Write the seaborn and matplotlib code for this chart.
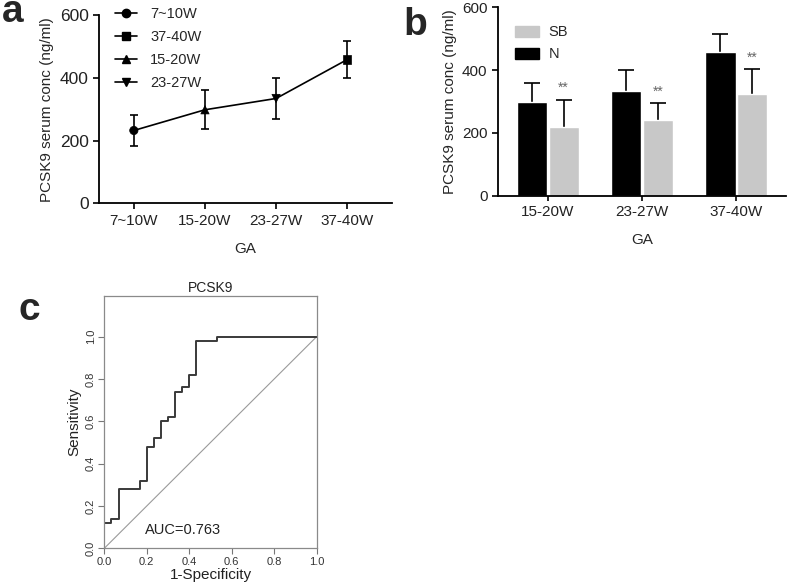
import matplotlib
matplotlib.use("Agg")
import matplotlib.pyplot as plt
from matplotlib.lines import Line2D
import pandas as pd
import seaborn as sns

sns.set_theme(style="ticks")
plt.rcParams["font.family"] = ["Liberation Sans", "DejaVu Sans"]

# panel a: PCSK9 over gestational age
ga_a = ["7~10W", "15-20W", "23-27W", "37-40W"]
mean_a = [232, 298, 334, 458]
sd_a = [50, 62, 66, 58]
marker_a = {"7~10W": "o", "15-20W": "^", "23-27W": "v", "37-40W": "s"}
legend_order_a = ["7~10W", "37-40W", "15-20W", "23-27W"]

# panel b: SB vs N
ga_b = ["15-20W", "23-27W", "37-40W"]
n_mean = [298, 334, 458]
n_sd = [62, 66, 58]
sb_mean = [218, 242, 323]
sb_sd = [88, 54, 80]
stars = ["**", "**", "**"]

# panel c: ROC curve
fpr = [0.0, 0.0, 0.033, 0.067, 0.167, 0.2, 0.233, 0.267, 0.3, 0.333, 0.367, 0.4, 0.433, 0.533, 1.0]
tpr = [0.0, 0.12, 0.14, 0.28, 0.32, 0.48, 0.52, 0.60, 0.62, 0.74, 0.76, 0.82, 0.98, 1.0, 1.0]
auc_text = "AUC=0.763"

fig = plt.figure(figsize=(7.87, 5.86), dpi=100)
fig.patch.set_facecolor("white")

# ---------- a ----------
ax_a = fig.add_axes([0.1258, 0.6531, 0.3723, 0.3213])
df_a = pd.DataFrame({"GA": ga_a, "mean": mean_a, "sd": sd_a})
sns.lineplot(data=df_a, x="GA", y="mean", color="black", lw=1.2, ax=ax_a, sort=False)
ax_a.errorbar(df_a["GA"], df_a["mean"], yerr=df_a["sd"], fmt="none",
              ecolor="black", elinewidth=1.2, capsize=3, capthick=1.2)
sns.scatterplot(data=df_a, x="GA", y="mean", style="GA", markers=marker_a,
                color="black", s=36, edgecolor="black", legend=False, ax=ax_a, zorder=5)
ax_a.set_xlim(-0.49, 3.63)
ax_a.set_ylim(0, 600)
ax_a.set_yticks([0, 200, 400, 600])
ax_a.set_xlabel("GA", fontsize=11, labelpad=10)
ax_a.set_ylabel("PCSK9 serum conc (ng/ml)", fontsize=11, labelpad=4)
ax_a.tick_params(width=1.2, length=4, color="black", labelcolor="#222222")
ax_a.tick_params(axis="y", labelsize=12.5)
ax_a.tick_params(axis="x", labelsize=11)
for s in ["left", "bottom"]:
    ax_a.spines[s].set_linewidth(1.3)
    ax_a.spines[s].set_color("black")
sns.despine(ax=ax_a)
handles_a = [Line2D([0], [0], color="black", lw=1.2, marker=marker_a[g], markersize=6)
             for g in legend_order_a]
ax_a.legend(handles_a, legend_order_a, loc="upper left", bbox_to_anchor=(0.055, 1.04),
            frameon=False, fontsize=10.5, handlelength=1.5, labelspacing=0.6,
            handletextpad=0.9, borderpad=0, borderaxespad=0)

# ---------- b ----------
ax_b = fig.add_axes([0.6328, 0.666, 0.366, 0.3215])
df_b = pd.DataFrame({
    "GA": ga_b * 2,
    "group": ["N"] * 3 + ["SB"] * 3,
    "mean": n_mean + sb_mean,
    "sd": n_sd + sb_sd,
})
sns.barplot(data=df_b, x="GA", y="mean", hue="group", hue_order=["N", "SB"],
            palette={"N": "black", "SB": "#c8c8c8"}, width=0.67, gap=0.04,
            errorbar=None, ax=ax_b, legend=False)
for cont, grp in zip(ax_b.containers, ["N", "SB"]):
    sub = df_b[df_b["group"] == grp]
    xs = [bar.get_x() + bar.get_width() / 2 for bar in cont]
    # lower half stays hidden behind the bar
    ax_b.errorbar(xs, sub["mean"], yerr=sub["sd"], fmt="none",
                  ecolor="black", elinewidth=1.2, capsize=5.5, capthick=1.2, zorder=1)
    for bar in cont:
        bar.set_zorder(2)
    if grp == "SB":
        for x, m, e, st in zip(xs, sub["mean"], sub["sd"], stars):
            ax_b.text(x, m + e + 14, st, ha="center", va="bottom", fontsize=10, color="#666666")
ax_b.set_xlim(-0.53, 2.53)
ax_b.set_ylim(0, 600)
ax_b.set_yticks([0, 200, 400, 600])
ax_b.set_xlabel("GA", fontsize=11, labelpad=10)
ax_b.set_ylabel("PCSK9 serum conc (ng/ml)", fontsize=11, labelpad=4)
ax_b.tick_params(labelsize=11, width=1.2, length=4, color="black", labelcolor="#222222")
ax_b.tick_params(axis="x", length=3.5)
for s in ["left", "bottom"]:
    ax_b.spines[s].set_linewidth(1.3)
    ax_b.spines[s].set_color("black")
sns.despine(ax=ax_b)
handles_b = [plt.Rectangle((0, 0), 1, 1, color="#c8c8c8"), plt.Rectangle((0, 0), 1, 1, color="black")]
ax_b.legend(handles_b, ["SB", "N"], loc="upper left", bbox_to_anchor=(0.06, 0.905),
            frameon=False, fontsize=10.5, handlelength=1.6, handleheight=0.8,
            labelspacing=0.55, handletextpad=0.7, borderpad=0, borderaxespad=0)

# ---------- c ----------
ax_c = fig.add_axes([0.1325, 0.0643, 0.2699, 0.4306])
df_c = pd.DataFrame({"fpr": fpr, "tpr": tpr})
ax_c.plot([0, 1], [0, 1], color="#9a9a9a", lw=0.8)
sns.lineplot(data=df_c, x="fpr", y="tpr", estimator=None, sort=False,
             drawstyle="steps-post", color="#3a3a3a", lw=1.4, ax=ax_c)
ax_c.set_xlim(0, 1)
ax_c.set_ylim(0, 1.192)
ticks_c = [0.0, 0.2, 0.4, 0.6, 0.8, 1.0]
ax_c.set_xticks(ticks_c)
ax_c.set_yticks(ticks_c)
ax_c.set_xticklabels([f"{t:.1f}" for t in ticks_c])
ax_c.set_yticklabels([f"{t:.1f}" for t in ticks_c], rotation=90, va="center")
ax_c.tick_params(labelsize=8, width=0.8, length=4, color="#777777", labelcolor="#333333", pad=2)
for s in ax_c.spines.values():
    s.set_color("#8a8a8a")
    s.set_linewidth(0.9)
ax_c.set_xlabel("1-Specificity", fontsize=11, labelpad=1, color="#222222")
ax_c.set_ylabel("Sensitivity", fontsize=11, labelpad=3, color="#222222")
ax_c.set_title("PCSK9", fontsize=10, pad=3, color="#222222")
ax_c.text(0.37, 0.085, auc_text, ha="center", va="center", fontsize=10.5, color="#222222")

# panel letters
fig.text(0.003, 0.9625, "a", fontsize=28, fontweight="bold", va="baseline", ha="left")
fig.text(0.512, 0.940, "b", fontsize=28, fontweight="bold", va="baseline", ha="left")
fig.text(0.023, 0.454, "c", fontsize=28, fontweight="bold", va="baseline", ha="left")

plt.savefig("out.png", dpi=100, facecolor="white")
